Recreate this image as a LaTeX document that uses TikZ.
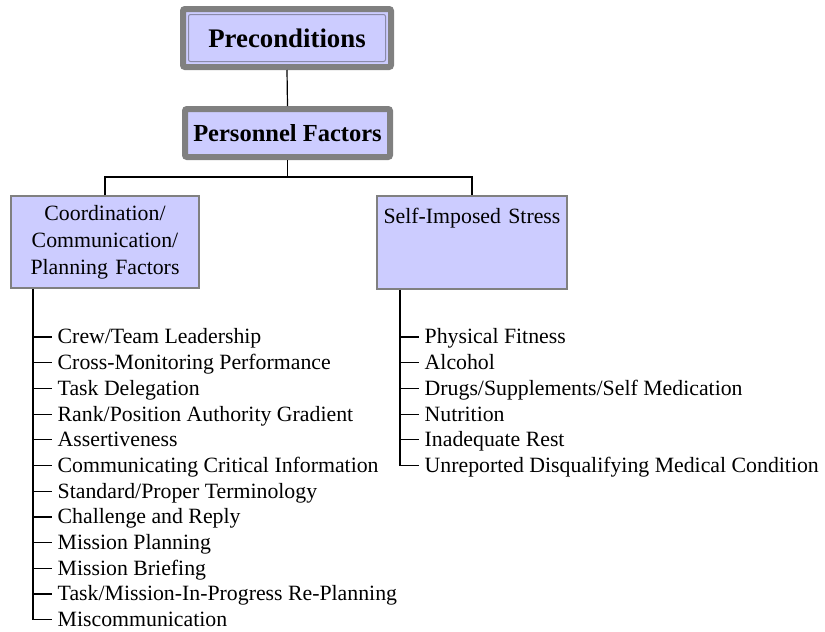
\documentclass[tikz,border=0pt]{standalone}
\usepackage{fontspec}
\setmainfont{Liberation Serif}
\definecolor{boxfill}{HTML}{CCCCFF}
\definecolor{boxline}{HTML}{808080}
\definecolor{innerline}{HTML}{8A8AA8}
\tikzset{
  topbox/.style={draw=boxline, line width=6pt, fill=boxfill, rounded corners=2pt,
    font=\bfseries\fontsize{26.8}{30}\selectfont, inner sep=0pt},
  catbox/.style={draw=boxline, line width=1.5pt, fill=boxfill,
    font=\fontsize{21.8}{27}\selectfont, inner sep=0pt, align=center},
  item/.style={anchor=west, inner xsep=5.5pt, inner ysep=0pt,
    text height=18pt, text depth=4.2pt, font=\fontsize{21.8}{25.7}\selectfont},
  conn/.style={draw=black, line width=1.2pt}
}
\begin{document}
\begin{tikzpicture}[x=1pt,y=-1pt]
\useasboundingbox (0,0) rectangle (825,632);
% top boxes
\node[topbox, minimum width=208pt, minimum height=58pt,
  path picture={\draw[innerline, line width=1pt]
   ([shift={(5.5,5.5)}]path picture bounding box.north west) rectangle
   ([shift={(-5.5,-5.5)}]path picture bounding box.south east);}]
  (pre) at (287,38) {Preconditions};
\node[topbox, minimum width=205pt, minimum height=48pt,
  font=\bfseries\fontsize{24.5}{28}\selectfont] (pers) at (287.5,133) {Personnel Factors};
% category boxes
\node[catbox, minimum width=188pt, minimum height=92pt, text width=186pt]
  (coord) at (105,242) {Coordination/\\Communication/\\Planning Factors};
\node[catbox, minimum width=190pt, inner ysep=3pt, text height=24pt, text depth=63pt, text width=188pt]
  (self) at (472,242.5) {Self-Imposed Stress};
% connectors between boxes
\coordinate (bus) at (288,177);
\draw[conn] (pre.south) -- (pers.north);
\draw[conn] (pers.south) -- (pers.south |- bus);
\draw[conn] (coord.north) |- (bus) -| (self.north);
% left list
\coordinate (cspine) at (33,0);
\foreach \t [count=\i from 0] in {Crew/Team Leadership,Cross-Monitoring Performance,Task Delegation,Rank/Position Authority Gradient,Assertiveness,Communicating Critical Information,Standard/Proper Terminology,Challenge and Reply,Mission Planning,Mission Briefing,Task/Mission-In-Progress Re-Planning,Miscommunication}
  \node[item] (c\i) at (52,{337+25.7*\i}) {\t};
\draw[conn] (coord.south -| cspine) |- (c11.west);
\foreach \i in {0,...,10} \draw[conn] (c\i.west -| cspine) -- (c\i.west);
% right list
\coordinate (sspine) at (400,0);
\foreach \t [count=\i from 0] in {Physical Fitness,Alcohol,Drugs/Supplements/Self Medication,Nutrition,Inadequate Rest,Unreported Disqualifying Medical Condition}
  \node[item] (s\i) at (419,{337+25.7*\i}) {\t};
\draw[conn] (self.south -| sspine) |- (s5.west);
\foreach \i in {0,...,4} \draw[conn] (s\i.west -| sspine) -- (s\i.west);
\end{tikzpicture}
\end{document}
